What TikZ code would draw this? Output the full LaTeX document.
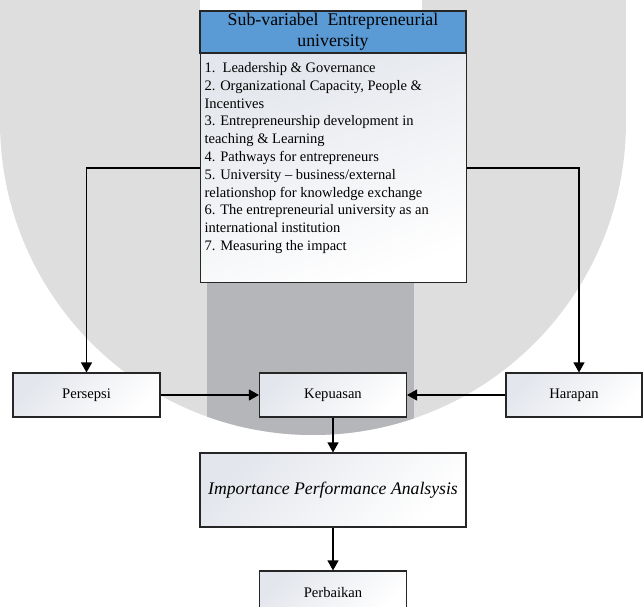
\documentclass[tikz,border=0pt]{standalone}
\usepackage{fontspec}
\setmainfont{Liberation Serif}
\usetikzlibrary{arrows.meta}
\definecolor{wmlight}{HTML}{DEDEDE}
\definecolor{wmdark}{HTML}{B5B6B9}
\definecolor{hdrblue}{HTML}{5B9BD5}
\definecolor{boxshade}{HTML}{E3E6EC}
\begin{document}
\begin{tikzpicture}[x=1pt,y=-1pt,
  box/.style={draw=black!85, line width=1.1pt, left color=boxshade, right color=white,
    shading angle=45, minimum width=147pt, minimum height=44pt, inner sep=0pt,
    font=\fontsize{14.6}{17}\selectfont},
  hdrbox/.style={draw=black!85, line width=1.1pt, fill=hdrblue, minimum width=266pt,
    minimum height=42pt, inner sep=0pt, align=center,
    font=\fontsize{17.8}{21}\selectfont},
  listbox/.style={draw=black!85, line width=1.1pt, left color=boxshade, right color=white,
    shading angle=20, inner xsep=4pt, inner ysep=2pt, font=\fontsize{14.5}{17.8}\selectfont},
  conn/.style={draw=black, line width=1.1pt, -{Triangle[length=10pt,width=11pt]}}]
\useasboundingbox (0,0) rectangle (643,607);
% background watermark
\begin{scope}
  \clip (0,0) rectangle (643,607);
  \fill[wmlight] (0,0) rectangle (626,122);
  \fill[wmlight] (313,122) circle[radius=313pt];
  \fill[white] (200,0) rectangle (422,60);
  \begin{scope}
    \clip (313,122) circle[radius=313pt];
    \fill[wmdark] (207,60) rectangle (414,500);
  \end{scope}
\end{scope}
% nodes
\node[hdrbox] (hdr) at (333,32) {Sub-variabel\ \ Entrepreneurial\\university};
\node[listbox, anchor=north west] (body) at (200,53) {\parbox[t][225pt][t]{258pt}{\raggedright
\rule{0pt}{17pt}1.\ \ Leadership \& Governance\\
2. Organizational Capacity, People \&\\
Incentives\\
3. Entrepreneurship development in\\
teaching \& Learning\\
4. Pathways for entrepreneurs\\
5. University -- business/external\\
relationshop for knowledge exchange\\
6. The entrepreneurial university as an\\
international institution\\
7. Measuring the impact}};
\node[box] (persepsi) at (86.5,395) {Persepsi};
\node[box] (kepuasan) at (333,395) {Kepuasan};
\node[box, minimum width=136pt] (harapan) at (574,395) {Harapan};
\node[box, minimum width=266pt, minimum height=74pt, font=\fontsize{17.7}{21}\selectfont\itshape] (ipa) at (333,490) {Importance Performance Analsysis};
\node[box] (perbaikan) at (333,593) {Perbaikan};
% connectors
\draw[conn] (body.west) -| (persepsi.north);
\draw[conn] (body.east) -| ([xshift=5pt]harapan.north);
\draw[conn] (persepsi) -- (kepuasan);
\draw[conn] (harapan) -- (kepuasan);
\draw[conn] (kepuasan) -- (ipa);
\draw[conn] (ipa) -- (perbaikan);
\end{tikzpicture}
\end{document}
